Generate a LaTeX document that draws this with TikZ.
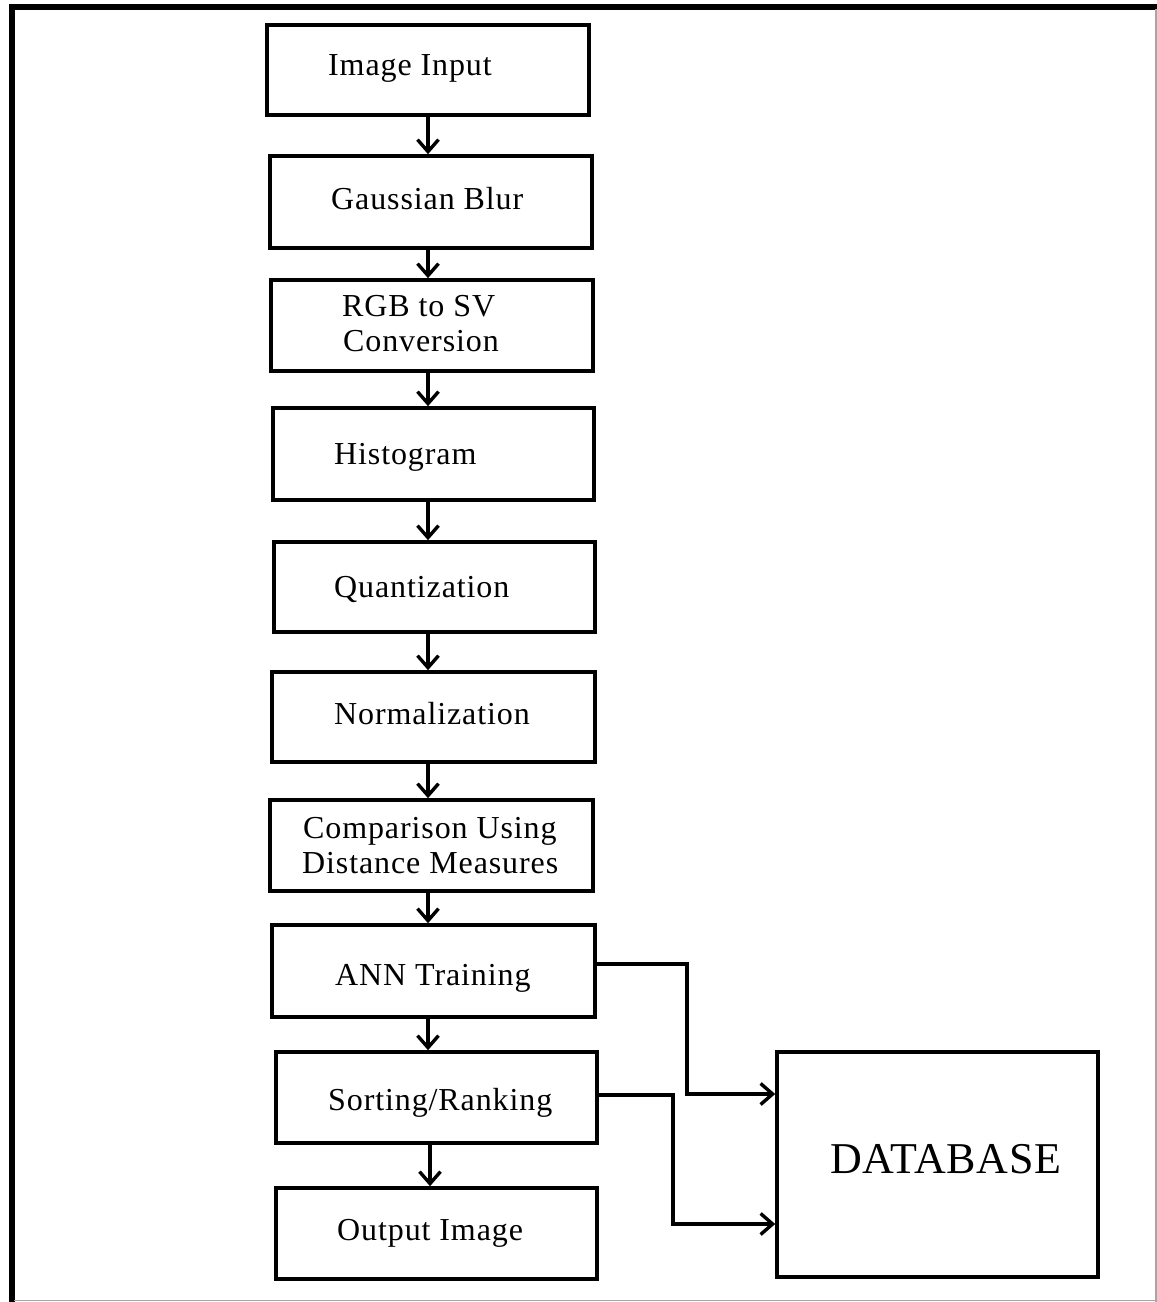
\documentclass[tikz,border=0pt]{standalone}
\usepackage{fontspec}
\setmainfont{Liberation Serif}
\newfontfamily\boxfont[LetterSpace=2.8]{Liberation Serif}
\newfontfamily\dbfont[LetterSpace=1.5]{Liberation Serif}
\usetikzlibrary{arrows.meta}
\begin{document}
\begin{tikzpicture}[x=1pt,y=-1pt,
  box/.style={draw=black,line width=3.6pt,minimum width=#1,inner sep=0pt},
  txt/.style={anchor=base west,inner sep=0pt,font=\boxfont\fontsize{32}{35}\selectfont},
  arr/.style={line width=3.4pt,-{Straight Barb[length=12pt,width=21pt,line width=3.4pt]}}]
\useasboundingbox (0,0) rectangle (1157,1302);
% frame
\draw[line width=5.5pt,black] (9,7) -- (1157,7);
\draw[line width=5.5pt,black] (12,5) -- (12,1302);
\draw[line width=1.4pt,gray!70] (1156,9) -- (1156,1302);
\draw[line width=1.4pt,gray!70] (14,1300.5) -- (1157,1300.5);
% boxes
\node[box=322pt,minimum height=90pt] (b1) at (428,70) {};
\node[box=322pt,minimum height=92pt] (b2) at (431,202) {};
\node[box=322pt,minimum height=91pt] (b3) at (432,325.5) {};
\node[box=321pt,minimum height=92pt] (b4) at (433.5,454) {};
\node[box=321pt,minimum height=90pt] (b5) at (434.5,587) {};
\node[box=323pt,minimum height=90pt] (b6) at (433.5,717) {};
\node[box=323pt,minimum height=91pt] (b7) at (431.5,845.5) {};
\node[box=323pt,minimum height=92pt] (b8) at (433.5,971) {};
\node[box=321pt,minimum height=91pt] (b9) at (436.5,1097.5) {};
\node[box=321pt,minimum height=91pt] (b10) at (436.5,1233.5) {};
\node[box=321pt,minimum height=225pt] (db) at (937.5,1164.5) {};
% texts
\node[txt] (t1) at (328,75) {Image Input};
\node[txt] (t2) at (331,209) {Gaussian Blur};
\node[txt] (t3a) at (342,316) {RGB to SV};
\node[txt] (t3b) at (343,351) {Conversion};
\node[txt] (t4) at (334,464) {Histogram};
\node[txt] (t5) at (334,597) {Quantization};
\node[txt] (t6) at (334,724) {Normalization};
\node[txt] (t7a) at (303,838) {Comparison Using};
\node[txt] (t7b) at (302,873) {Distance Measures};
\node[txt] (t8) at (335,985) {ANN Training};
\node[txt] (t9) at (328,1110) {Sorting/Ranking};
\node[txt] (t10) at (337,1240) {Output Image};
\node[txt,font=\dbfont\fontsize{44}{48}\selectfont] (tdb) at (830,1173) {DATABASE};
% axis for vertical arrows
\coordinate (ax) at (428,0);
\coordinate (ax2) at (430,0);
\draw[arr] (b1.south -| ax) -- (b2.north -| ax);
\draw[arr] (b2.south -| ax) -- (b3.north -| ax);
\draw[arr] (b3.south -| ax) -- (b4.north -| ax);
\draw[arr] (b4.south -| ax) -- (b5.north -| ax);
\draw[arr] (b5.south -| ax) -- (b6.north -| ax);
\draw[arr] (b6.south -| ax) -- (b7.north -| ax);
\draw[arr] (b7.south -| ax) -- (b8.north -| ax);
\draw[arr] (b8.south -| ax) -- (b9.north -| ax);
\draw[arr] (b9.south -| ax2) -- (b10.north -| ax2);
% side connectors
\coordinate (j1) at (687,964);
\coordinate (j2) at (687,1094);
\coordinate (k1) at (673,1095);
\coordinate (k2) at (673,1224);
\draw[arr] (b8.east |- j1) -- (j1) -- (j2) -- (db.west |- j2);
\draw[arr] (b9.east |- k1) -- (k1) -- (k2) -- (db.west |- k2);
\end{tikzpicture}
\end{document}
